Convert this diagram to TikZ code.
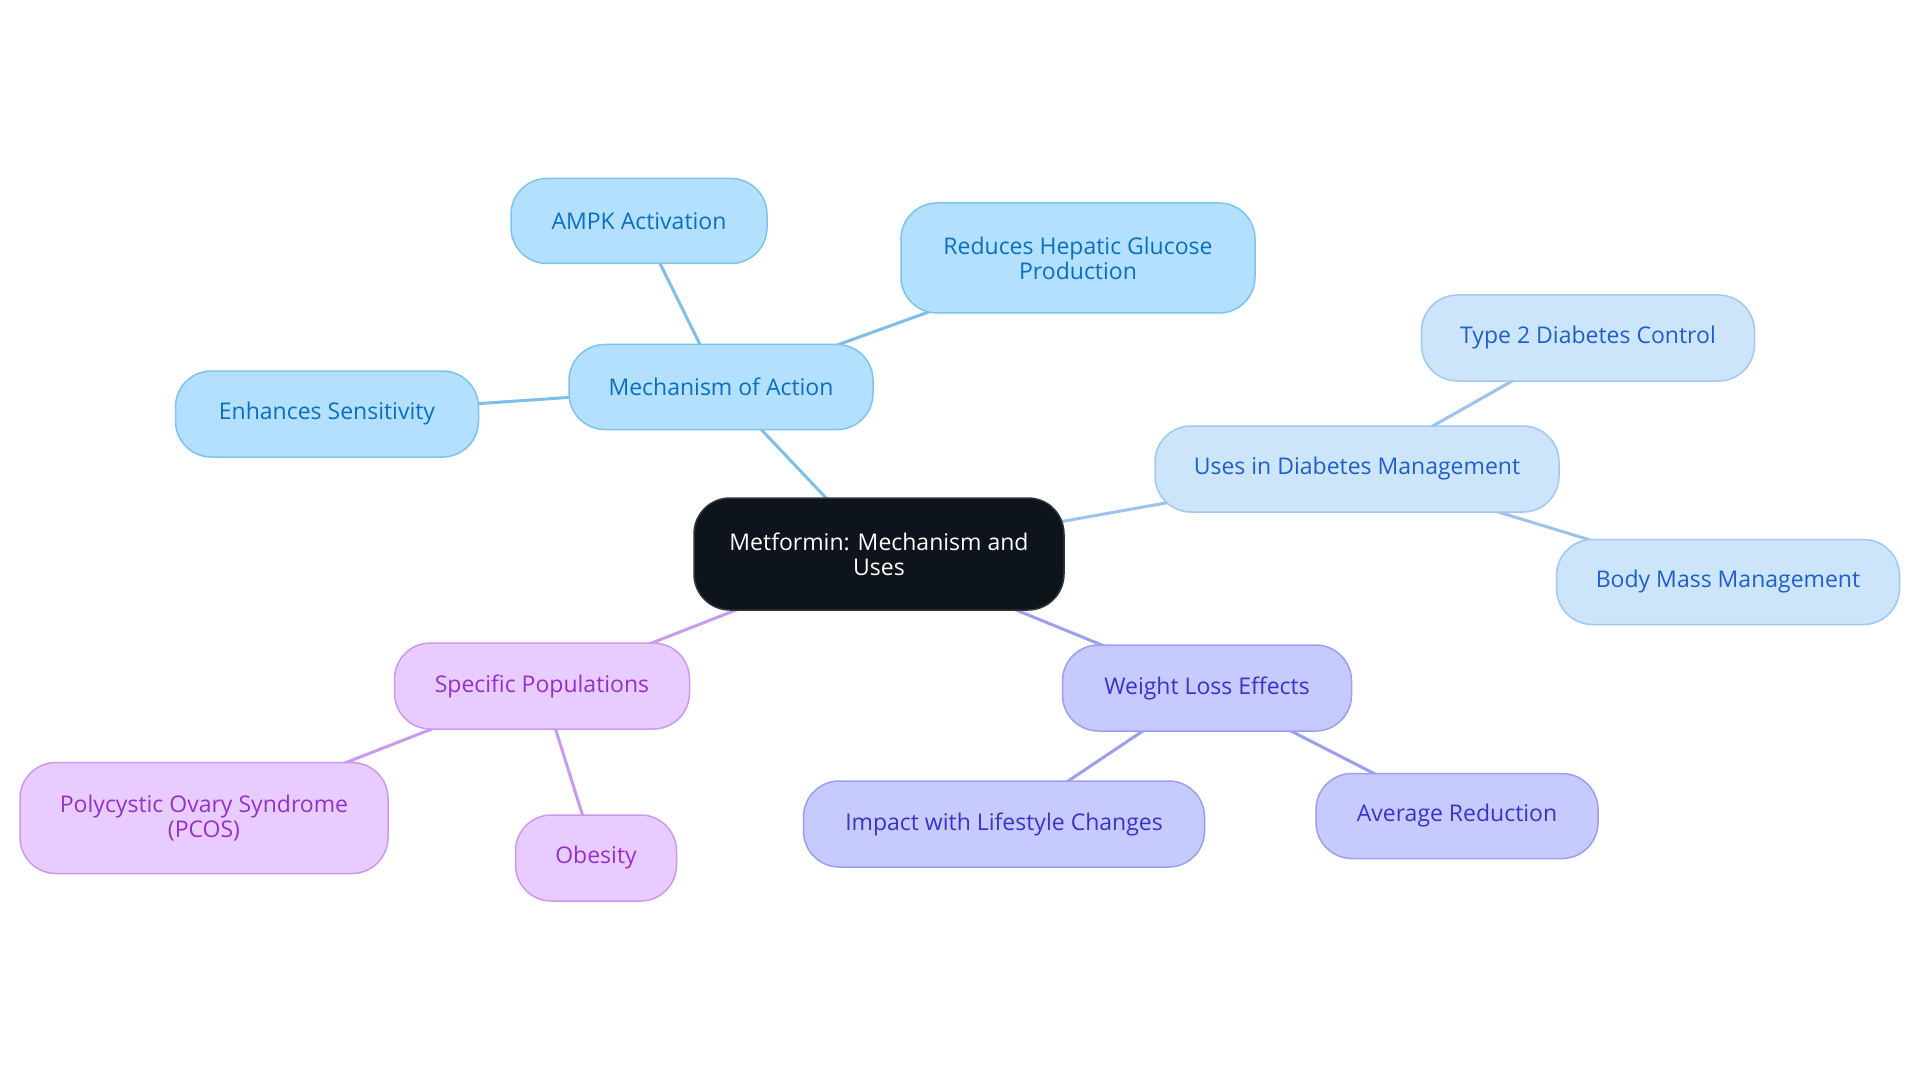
\documentclass[tikz,border=0pt]{standalone}
\usepackage{fontspec}
\setmainfont{Open Sans}
\usetikzlibrary{positioning}
\definecolor{bluefill}{HTML}{B3E0FF}
\definecolor{bluedraw}{HTML}{7EC3EE}
\definecolor{bluetext}{HTML}{0B6FC0}
\definecolor{blueline}{HTML}{7DBFE8}
\definecolor{usesfill}{HTML}{CCE5FB}
\definecolor{usesdraw}{HTML}{A0C8F0}
\definecolor{usestext}{HTML}{1F5FC8}
\definecolor{usesline}{HTML}{9CC3F0}
\definecolor{purpfill}{HTML}{E8CCFF}
\definecolor{purpdraw}{HTML}{C99AEE}
\definecolor{purptext}{HTML}{9530CC}
\definecolor{purpline}{HTML}{C99AEE}
\definecolor{indfill}{HTML}{C7CAFF}
\definecolor{inddraw}{HTML}{9C9FF0}
\definecolor{indtext}{HTML}{3A33C6}
\definecolor{indline}{HTML}{9C9FF0}
\definecolor{rootfill}{HTML}{0E141B}
\pgfdeclarelayer{bg}
\pgfdeclarelayer{edges}
\pgfsetlayers{bg,edges,main}
\tikzset{
  box/.style={rectangle, rounded corners=36pt, line width=1.5pt, inner sep=0pt,
    align=center, font=\fontsize{23}{25}\selectfont},
  bluebox/.style={box, fill=bluefill, draw=bluedraw, text=bluetext},
  usesbox/.style={box, fill=usesfill, draw=usesdraw, text=usestext},
  purpbox/.style={box, fill=purpfill, draw=purpdraw, text=purptext},
  indbox/.style={box, fill=indfill, draw=inddraw, text=indtext},
  rootbox/.style={box, fill=rootfill, draw=rootfill!70!gray, text=white},
  link/.style={line width=3pt}
}
\begin{document}
\begin{tikzpicture}[x=1pt,y=-1pt]
\begin{pgfonlayer}{bg}
\fill[white] (0,0) rectangle (1920,1083);
\end{pgfonlayer}
\useasboundingbox (0,0) rectangle (1920,1083);

\node[rootbox, minimum width=370pt, minimum height=112pt] (root) at (879,554) {Metformin: Mechanism and\\Uses};

\node[bluebox, minimum width=304pt, minimum height=85pt] (mech) at (721,387) {Mechanism of Action};
\node[bluebox, minimum width=256pt, minimum height=85pt] (ampk) at (639,221) {AMPK Activation};
\node[bluebox, minimum width=354pt, minimum height=110pt] (hep) at (1078,258) {Reduces Hepatic Glucose\\Production};
\node[bluebox, minimum width=303pt, minimum height=86pt] (sens) at (327,414) {Enhances Sensitivity};

\node[usesbox, minimum width=404pt, minimum height=86pt] (uses) at (1357,469) {Uses in Diabetes Management};
\node[usesbox, minimum width=333pt, minimum height=86pt] (t2d) at (1588,338) {Type 2 Diabetes Control};
\node[usesbox, minimum width=343pt, minimum height=85pt] (bmm) at (1728,582) {Body Mass Management};

\node[purpbox, minimum width=295pt, minimum height=86pt] (spec) at (542,686) {Specific Populations};
\node[purpbox, minimum width=368pt, minimum height=111pt] (pcos) at (204,818) {Polycystic Ovary Syndrome\\(PCOS)};
\node[purpbox, minimum width=161pt, minimum height=86pt] (obes) at (596,858) {Obesity};

\node[indbox, minimum width=289pt, minimum height=86pt] (wle) at (1207,688) {Weight Loss Effects};
\node[indbox, minimum width=401pt, minimum height=86pt] (imp) at (1004,824) {Impact with Lifestyle Changes};
\node[indbox, minimum width=282pt, minimum height=85pt] (avg) at (1457,816) {Average Reduction};

\begin{pgfonlayer}{edges}
\draw[link, blueline] (root.center) -- (mech.center);
\draw[link, blueline] (mech.center) -- (ampk.center);
\draw[link, blueline] (mech.center) -- (hep.center);
\draw[link, blueline] (mech.center) -- (sens.center);
\draw[link, usesline] (root.center) -- (uses.center);
\draw[link, usesline] (uses.center) -- (t2d.center);
\draw[link, usesline] (uses.center) -- (bmm.center);
\draw[link, purpline] (root.center) -- (spec.center);
\draw[link, purpline] (spec.center) -- (pcos.center);
\draw[link, purpline] (spec.center) -- (obes.center);
\draw[link, indline] (root.center) -- (wle.center);
\draw[link, indline] (wle.center) -- (imp.center);
\draw[link, indline] (wle.center) -- (avg.center);
\end{pgfonlayer}
\end{tikzpicture}
\end{document}
